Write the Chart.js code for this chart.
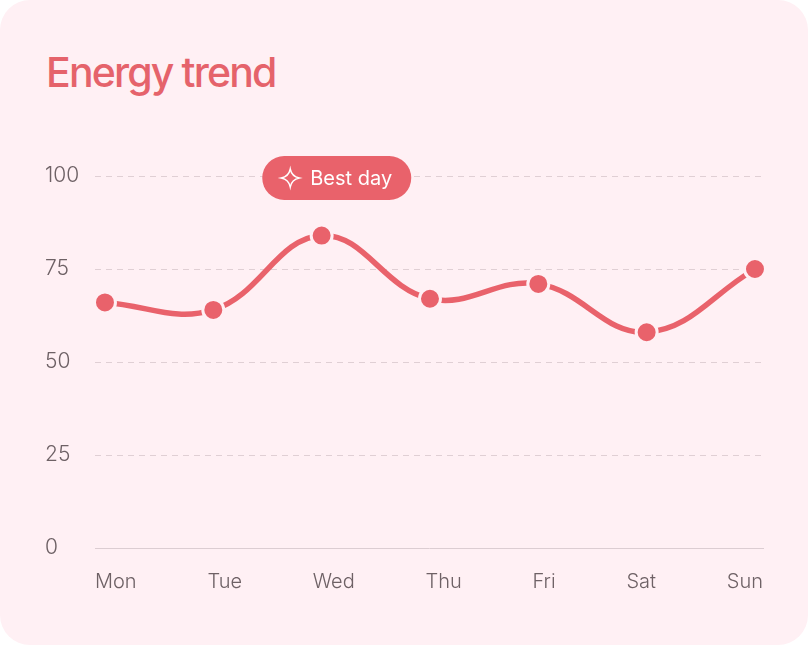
<!DOCTYPE html>
<html>
<head>
<meta charset="utf-8">
<script src="https://cdn.jsdelivr.net/npm/chart.js@4.4.1/dist/chart.umd.min.js"></script>
<style>
  html, body { margin: 0; padding: 0; background: #ffffff; }
  .card {
    position: relative;
    width: 808px;
    height: 645px;
    background: #fff0f4;
    border-radius: 30px;
    overflow: hidden;
  }
  .title {
    position: absolute;
    left: 46px;
    top: 47px;
    margin: 0;
    font-family: Inter, "Noto Sans", sans-serif;
    font-weight: 500;
    font-size: 41px;
    letter-spacing: -0.045em;
    color: #e5636b;
  }
  canvas { position: absolute; left: 0; top: 0; }
</style>
</head>
<body>
<div class="card">
  <h1 class="title">Energy trend</h1>
  <canvas id="chart" width="808" height="645"></canvas>
</div>
<script>
const days = ['Mon', 'Tue', 'Wed', 'Thu', 'Fri', 'Sat', 'Sun'];
const energy = [66, 64, 84, 67, 71, 58, 75];
const yTicks = [0, 25, 50, 75, 100];
const bestDayLabel = 'Best day';

const coral = '#e9626b';
const cardBg = '#fff0f4';
const tickColor = '#6e6165';
const tickFont = '300 20px Inter, "Noto Sans", sans-serif';

// day labels spread edge to edge, returns left x of each label
function dayLabelSlots(chart) {
  const ctx = chart.ctx;
  const area = chart.chartArea;
  ctx.save();
  ctx.font = tickFont;
  const widths = days.map(d => ctx.measureText(d).width);
  ctx.restore();
  const total = widths.reduce((a, b) => a + b, 0);
  const gap = (area.right - area.left - total) / (days.length - 1);
  const slots = [];
  let x = area.left;
  widths.forEach(w => {
    slots.push({ x, w });
    x += w + gap;
  });
  return slots;
}

// pill above the highest day
const bestDayPlugin = {
  id: 'bestDay',
  afterDatasetsDraw(chart) {
    const ctx = chart.ctx;
    const best = energy.indexOf(Math.max(...energy));
    const slot = dayLabelSlots(chart)[best];
    const cx = slot.x + slot.w / 2 + 3;
    const cy = chart.scales.y.getPixelForValue(100) + 2;
    const w = 149, h = 44, r = h / 2;
    ctx.save();
    ctx.fillStyle = coral;
    ctx.beginPath();
    ctx.roundRect(cx - w / 2, cy - h / 2, w, h, r);
    ctx.fill();

    // sparkle
    const sx = cx - w / 2 + 28, sy = cy, s = 9;
    ctx.strokeStyle = '#ffffff';
    ctx.lineWidth = 1.4;
    ctx.beginPath();
    ctx.moveTo(sx, sy - s);
    ctx.quadraticCurveTo(sx + 1.5, sy - 1.5, sx + s, sy);
    ctx.quadraticCurveTo(sx + 1.5, sy + 1.5, sx, sy + s);
    ctx.quadraticCurveTo(sx - 1.5, sy + 1.5, sx - s, sy);
    ctx.quadraticCurveTo(sx - 1.5, sy - 1.5, sx, sy - s);
    ctx.closePath();
    ctx.stroke();

    ctx.fillStyle = '#ffffff';
    ctx.font = '400 20px Inter, "Noto Sans", sans-serif';
    ctx.textAlign = 'left';
    ctx.textBaseline = 'middle';
    ctx.fillText(bestDayLabel, cx - w / 2 + 48, cy + 1);
    ctx.restore();
  }
};

const dayLabelsPlugin = {
  id: 'dayLabels',
  afterDraw(chart) {
    const ctx = chart.ctx;
    const slots = dayLabelSlots(chart);
    ctx.save();
    ctx.font = tickFont;
    ctx.fillStyle = tickColor;
    ctx.textAlign = 'left';
    ctx.textBaseline = 'middle';
    days.forEach((d, i) => ctx.fillText(d, slots[i].x, chart.chartArea.bottom + 34));
    ctx.restore();
  }
};

const ctx = document.getElementById('chart').getContext('2d');
new Chart(ctx, {
  type: 'line',
  data: {
    datasets: [{
      data: energy.map((v, i) => ({ x: i, y: v })),
      borderColor: coral,
      borderWidth: 5.5,
      tension: 0.4,
      pointRadius: 10.5,
      pointHoverRadius: 10.5,
      pointBackgroundColor: coral,
      pointBorderColor: cardBg,
      pointBorderWidth: 3,
      clip: false
    }]
  },
  options: {
    responsive: false,
    animation: false,
    events: [],
    layout: { padding: { left: 45, right: 45, top: 176, bottom: 89 } },
    plugins: {
      legend: { display: false },
      tooltip: { enabled: false }
    },
    scales: {
      x: {
        type: 'linear',
        min: -0.092,
        max: 6.074,
        grid: { display: false },
        border: { display: true, color: '#dccdd2', width: 1 },
        ticks: { display: false }
      },
      y: {
        min: 0,
        max: 100,
        afterFit(scale) { scale.width = 50; },
        afterBuildTicks(scale) { scale.ticks = yTicks.map(v => ({ value: v })); },
        grid: {
          color: c => (c.tick && c.tick.value === 0) ? 'rgba(0,0,0,0)' : '#e0cfd4',
          lineWidth: 1,
          drawTicks: false
        },
        border: { display: false, dash: [6, 5] },
        ticks: {
          crossAlign: 'far',
          padding: 0,
          color: tickColor,
          font: { family: 'Inter, "Noto Sans", sans-serif', size: 21, weight: 300 }
        }
      }
    }
  },
  plugins: [bestDayPlugin, dayLabelsPlugin]
});
</script>
</body>
</html>
